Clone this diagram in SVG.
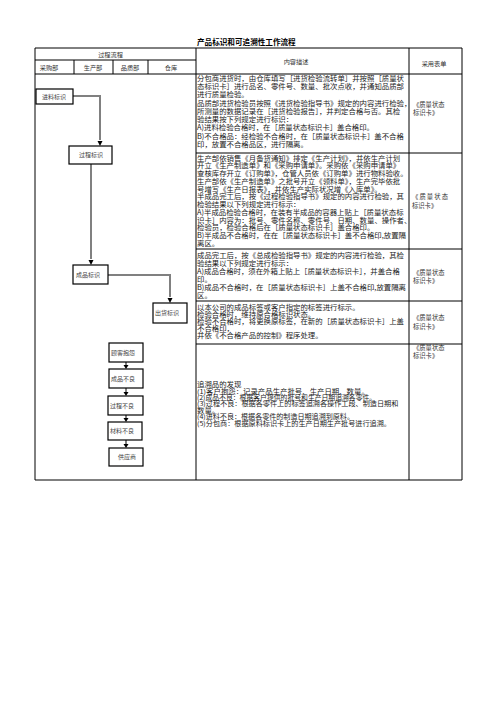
<svg xmlns="http://www.w3.org/2000/svg" width="496" height="702" viewBox="0 0 496 702">
<style>
.t{font-family:"Noto Sans CJK SC","Noto Sans",sans-serif;font-size:7.4px;fill:#1a1a1a}
.s{font-family:"Noto Sans CJK SC","Noto Sans",sans-serif;font-size:6.4px;fill:#1a1a1a}
.h{font-family:"Noto Sans CJK SC","Noto Sans",sans-serif;font-size:6.2px;fill:#333}
.r{font-family:"Noto Sans CJK SC","Noto Sans",sans-serif;font-size:6.3px;fill:#333}
.b{font-family:"Noto Sans CJK SC","Noto Sans",sans-serif;font-size:6px;fill:#444}
.ttl{font-family:"Noto Sans CJK SC","Noto Sans",sans-serif;font-size:7.6px;font-weight:bold;fill:#000}
.g line,.g path{stroke:#000;stroke-width:1;fill:none}
.box rect{fill:#fff;stroke:#000;stroke-width:1.2}
.flow{stroke:#808080;stroke-width:2;fill:none}
.ch{stroke:#000;stroke-width:1;fill:none}
.ah{fill:#000}
</style>
<rect width="496" height="702" fill="#fff"/>
<text class="ttl" x="197" y="45">产品标识和可追溯性工作流程</text>
<g id="table" class="g">
<path d="M35,48 H462 V480 H35 Z"/>
<line x1="35" y1="60" x2="196" y2="60"/>
<line x1="35" y1="74" x2="462" y2="74"/>
<line x1="74" y1="60" x2="74" y2="74"/>
<line x1="113" y1="60" x2="113" y2="74"/>
<line x1="148" y1="60" x2="148" y2="74"/>
<line x1="196" y1="48" x2="196" y2="480"/>
<line x1="409" y1="48" x2="409" y2="480"/>
<line x1="196" y1="153" x2="462" y2="153"/>
<line x1="196" y1="249" x2="462" y2="249"/>
<line x1="196" y1="301" x2="462" y2="301"/>
<line x1="196" y1="344" x2="462" y2="344"/>
</g>
<g id="headers">
<text class="h" x="110.5" y="56.5" text-anchor="middle">过程流程</text>
<text class="h" x="49" y="69.5" text-anchor="middle">采购部</text>
<text class="h" x="93" y="69.5" text-anchor="middle">生产部</text>
<text class="h" x="130" y="69.5" text-anchor="middle">品质部</text>
<text class="h" x="171" y="69.5" text-anchor="middle">仓库</text>
<text class="h" x="296" y="64" text-anchor="middle">内容描述</text>
<text class="h" x="434" y="66" text-anchor="middle">采用表单</text>
</g>
<g id="connectors">
<path class="flow" d="M73,96 H100 V140"/>
<path class="flow" d="M91,164 V259"/>
<path class="flow" d="M108,275 H170 V297"/>
<path class="ah" d="M97.5,141 L102.5,141 L100,146 z"/>
<path class="ah" d="M88.5,260 L93.5,260 L91,265 z"/>
<path class="ah" d="M167.5,298 L172.5,298 L170,303 z"/>
<path class="ch" d="M126,362 V365"/>
<path class="ah" d="M123.5,365 L128.5,365 L126,369 z"/>
<path class="ch" d="M126,388 V392"/>
<path class="ah" d="M123.5,392 L128.5,392 L126,396 z"/>
<path class="ch" d="M126,415 V418"/>
<path class="ah" d="M123.5,418 L128.5,418 L126,422 z"/>
<path class="ch" d="M126,440 V444"/>
<path class="ah" d="M123.5,444 L128.5,444 L126,448 z"/>
</g>
<g id="n-jinliao" class="box"><rect x="36" y="89" width="37" height="15"/><text class="b" x="42" y="98.7">进料标识</text></g>
<g id="n-guocheng" class="box"><rect x="69" y="146" width="43" height="18"/><text class="b" x="79" y="157">过程标识</text></g>
<g id="n-chengpin" class="box"><rect x="73" y="265" width="35" height="19"/><text class="b" x="76" y="276.5">成品标识</text></g>
<g id="n-chuhuo" class="box"><rect x="153" y="303" width="34" height="20"/><text class="b" x="155" y="315">出货标识</text></g>
<g id="n-kehu" class="box"><rect x="109" y="343" width="34" height="19"/><text class="b" x="111" y="354.5">顾客抱怨</text></g>
<g id="n-cpbl" class="box"><rect x="109" y="369" width="34" height="19"/><text class="b" x="111" y="380.5">成品不良</text></g>
<g id="n-gcbl" class="box"><rect x="108" y="396" width="35" height="19"/><text class="b" x="110" y="407.5">过程不良</text></g>
<g id="n-clbl" class="box"><rect x="108" y="422" width="34" height="18"/><text class="b" x="110" y="433">材料不良</text></g>
<g id="n-gys" class="box"><rect x="109" y="448" width="34" height="18"/><text class="b" x="118" y="459">供应商</text></g>
<g id="content">
<text class="t" x="197" y="80.8">分包商进货时，由仓库填写［进货检验流转单］并按照［质量状</text>
<text class="t" x="197" y="89">态标识卡］进行品名、零件号、数量、批次点收，并通知品质部</text>
<text class="t" x="197" y="97.3">进行质量检验。</text>
<text class="t" x="197" y="105.5">品质部进货检验员按照《进货检验指导书》规定的内容进行检验，</text>
<text class="t" x="197" y="113.8">所测量的数据记录在［进货检验报告］，并判定合格与否。其检</text>
<text class="t" x="197" y="122">验结果按下列规定进行标识：</text>
<text class="t" x="197" y="130.3">A)进料检验合格时，在［质量状态标识卡］盖合格印。</text>
<text class="t" x="197" y="138.5">B)不合格品：经检验不合格时，在［质量状态标识卡］盖不合格</text>
<text class="t" x="197" y="146.8">印，放置不合格品区，进行隔离。</text>
<text class="t" x="197" y="160.7">生产部依销售《月备货通知》排定《生产计划》，并依生产计划</text>
<text class="t" x="197" y="168.4">开立《生产制造单》和《采购申请单》。采购依《采购申请单》</text>
<text class="t" x="197" y="176.2">查核库存开立《订购单》，仓管人员依《订购单》进行物料验收。</text>
<text class="t" x="197" y="183.9">生产部依《生产制造单》之批号开立《领料单》，生产完毕依批</text>
<text class="t" x="197" y="191.7">号增写《生产日报表》，并依生产实际状况增《入库单》。</text>
<text class="t" x="197" y="199.4">半成品完工后，按《过程检验指导书》规定的内容进行检验，其</text>
<text class="t" x="197" y="207.2">检验结果以下列规定进行标示：</text>
<text class="t" x="197" y="214.9">A)半成品检验合格时，在装有半成品的容器上贴上［质量状态标</text>
<text class="t" x="197" y="222.7">识卡］内容为：批号、零件名称、零件号、日期、数量、操作者、</text>
<text class="t" x="197" y="230.4">检验员，检验合格后在［质量状态标识卡］盖合格印。</text>
<text class="t" x="197" y="238.2">B)半成品不合格时，在在［质量状态标识卡］盖不合格印,放置隔</text>
<text class="t" x="197" y="245.9">离区。</text>
<text class="t" x="197" y="258.2">成品完工后，按《总成检验指导书》规定的内容进行检验，其检</text>
<text class="t" x="197" y="266.1">验结果以下列规定进行标示：</text>
<text class="t" x="197" y="274">A)成品合格时，须在外箱上贴上［质量状态标识卡］，并盖合格</text>
<text class="t" x="197" y="281.9">印。</text>
<text class="t" x="197" y="289.8">B)成品不合格时，在［质量状态标识卡］上盖不合格印,放置隔离</text>
<text class="t" x="197" y="297.7">区。</text>
<text class="t" x="197" y="309.7">以本公司的成品标签或客户指定的标签进行标示。</text>
<text class="t" x="197" y="316.7">检验合格时，维持原合格标识状态。</text>
<text class="t" x="197" y="323.7">检验不合格时，将更换原标签，在新的［质量状态标识卡］上盖</text>
<text class="t" x="197" y="330.7">不合格印，</text>
<text class="t" x="197" y="337.7">并依《不合格产品的控制》程序处理。</text>
<text class="s" x="197" y="387.4" textLength="44.4" lengthAdjust="spacingAndGlyphs">追溯品的发现</text>
<text class="s" x="197" y="393.7" textLength="171.8" lengthAdjust="spacingAndGlyphs">(1)客户抱怨：记录产品生产批号、生产日期、数量。</text>
<text class="s" x="197" y="400.1" textLength="179.2" lengthAdjust="spacingAndGlyphs">(2)成品不良：根据客户提供的批号和生产日期追溯各零件。</text>
<text class="s" x="197" y="406.4" textLength="201.4" lengthAdjust="spacingAndGlyphs">(3)过程不良：根据各零件上的标签追溯各操作工段、制造日期和</text>
<text class="s" x="197" y="412.8" textLength="22.2" lengthAdjust="spacingAndGlyphs">数量。</text>
<text class="s" x="197" y="419.1" textLength="157" lengthAdjust="spacingAndGlyphs">(4)进料不良：根据各零件的制造日期追溯到原料。</text>
<text class="s" x="197" y="425.5" textLength="194" lengthAdjust="spacingAndGlyphs">(5)分包商：根据原料标识卡上的生产日期生产批号进行追溯。</text>
</g>
<g id="forms">
<text class="r" x="413" y="107.3">《质量状态</text>
<text class="r" x="413" y="115.3">标识卡》</text>
<text class="r" x="412" y="199.3" textLength="36" lengthAdjust="spacing">《质量状态</text>
<text class="r" x="412" y="208.3">标识卡》</text>
<text class="r" x="413" y="275.3">《质量状态</text>
<text class="r" x="413" y="283.3">标识卡》</text>
<text class="r" x="413" y="320.3">《质量状态</text>
<text class="r" x="413" y="329.3">标识卡》</text>
<text class="r" x="413" y="350.3">《质量状态</text>
<text class="r" x="413" y="358.3">标识卡》</text>
</g>
</svg>
